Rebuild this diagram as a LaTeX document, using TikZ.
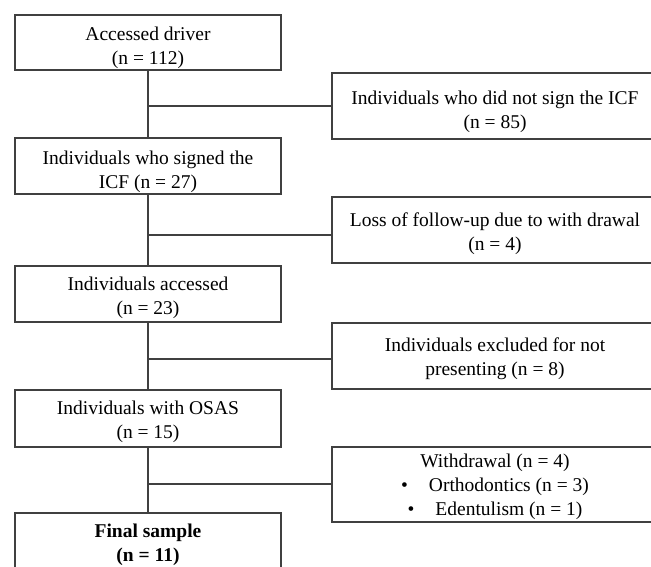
\documentclass[tikz,border=0pt]{standalone}
\usepackage{fontspec}
\setmainfont{Liberation Serif}
\definecolor{linegray}{RGB}{64,64,64}
\begin{document}
\begin{tikzpicture}[x=1pt,y=-1pt,
  box/.style={draw=linegray, line width=1.2pt, inner sep=0pt},
  leftbox/.style={box, minimum width=266pt},
  rightbox/.style={box, minimum width=326pt},
  txt/.style={align=center, inner sep=0pt, font=\fontsize{19.5}{24}\selectfont},
  conn/.style={draw=linegray, line width=1.2pt}]
\useasboundingbox (0,0) rectangle (651,566);
\clip (0,0) rectangle (651,566);
\fill[white] (0,0) rectangle (651,566);
% left column boxes
\node[leftbox, minimum height=55pt] (b1) at (148,42.5) {};
\node[leftbox, minimum height=56pt] (b2) at (148,166) {};
\node[leftbox, minimum height=56pt] (b3) at (148,294) {};
\node[leftbox, minimum height=57pt] (b4) at (148,418.5) {};
\node[leftbox, minimum height=57pt] (b5) at (148,541.5) {};
% right column boxes
\node[rightbox, minimum height=66pt] (r1) at (495,106) {};
\node[rightbox, minimum height=66pt] (r2) at (495,230) {};
\node[rightbox, minimum height=66pt] (r3) at (495,356) {};
\node[rightbox, minimum height=75pt] (r4) at (495,484.5) {};
% texts
\node[txt] (b1t) at ([yshift=-5pt]b1.center) {Accessed driver\\(n = 112)};
\node[txt] (b2t) at ([yshift=-6pt]b2.center) {Individuals who signed the\\ICF (n = 27)};
\node[txt] (b3t) at ([yshift=-4pt]b3.center) {Individuals accessed\\(n = 23)};
\node[txt] (b4t) at ([yshift=-3.5pt]b4.center) {Individuals with OSAS\\(n = 15)};
\node[txt] (b5t) at ([yshift=-3.5pt]b5.center) {\textbf{Final sample}\\\textbf{(n = 11)}};
\node[txt] (r1t) at ([yshift=-6pt]r1.center) {Individuals who did not sign the ICF\\(n = 85)};
\node[txt] (r2t) at ([yshift=-3.5pt]r2.center) {Loss of follow-up due to with drawal\\(n = 4)};
\node[txt] (r3t) at ([yshift=-2.5pt]r3.center) {Individuals excluded for not\\presenting (n = 8)};
\node[txt] (r4t) at ([yshift=-2.5pt]r4.center) {Withdrawal (n = 4)\\\textbullet\hspace{21pt}Orthodontics (n = 3)\\\textbullet\hspace{21pt}Edentulism (n = 1)};
% branch points on the spine
\coordinate (h1) at (148,106);
\coordinate (h2) at (148,235);
\coordinate (h3) at (148,359);
\coordinate (h4) at (148,484);
% connectors
\draw[conn] (b1.south) -- (b2.north);
\draw[conn] (b2.south) -- (b3.north);
\draw[conn] (b3.south) -- (b4.north);
\draw[conn] (b4.south) -- (b5.north);
\draw[conn] (h1) -- (h1 -| r1.west);
\draw[conn] (h2) -- (h2 -| r2.west);
\draw[conn] (h3) -- (h3 -| r3.west);
\draw[conn] (h4) -- (h4 -| r4.west);
\end{tikzpicture}
\end{document}
